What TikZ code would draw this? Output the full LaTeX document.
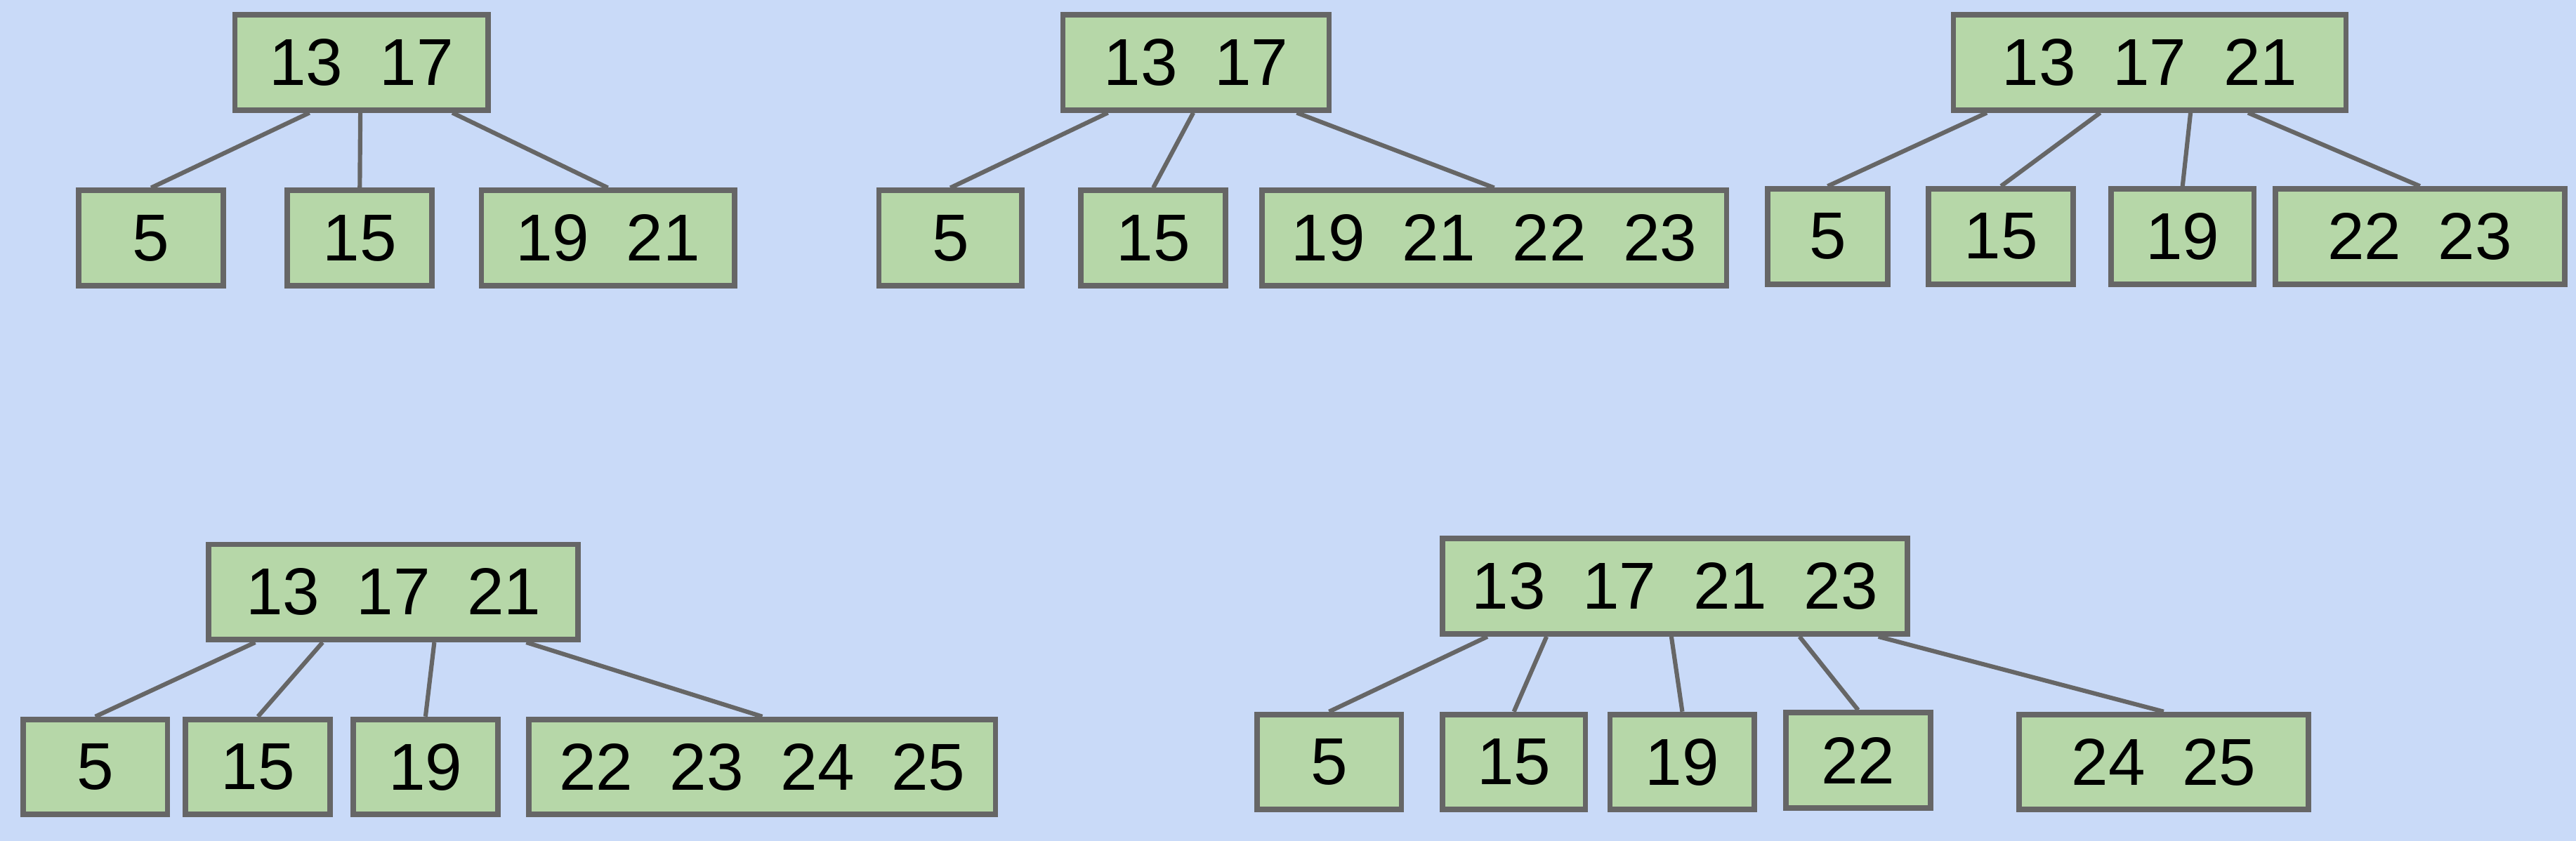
\documentclass[tikz,border=0pt]{standalone}
\usepackage{fontspec}
\setmainfont{Liberation Sans}
\usetikzlibrary{calc}
\definecolor{bgblue}{HTML}{C9DAF8}
\definecolor{keygreen}{HTML}{B6D7A8}
\definecolor{edgegray}{HTML}{666666}
\tikzset{
  keybox/.style={draw=edgegray, fill=keygreen, line width=1.9pt, inner sep=0pt,
    minimum height=1.16cm, minimum width=1.76cm,
    font=\fontsize{23}{28}\selectfont},
  link/.style={draw=edgegray, line width=1.5pt}
}
\begin{document}
\begin{tikzpicture}[x=0.02cm,y=-0.02cm]
	\fill[bgblue] (0,0) rectangle (1568,512);
	\useasboundingbox (0,0) rectangle (1568,512);
	% first tree
	\node[keybox, minimum width=3.08cm] (ra) at (220,38) {13~~17};
	\node[keybox] (ra1) at (92,145) {5};
	\node[keybox] (ra2) at (219,145) {15};
	\node[keybox, minimum width=3.08cm] (ra3) at (370,145) {19~~21};
	\draw[link] ($(ra.south west)+(47,0)$) -- (ra1.north);
	\draw[link] ($(ra.south west)+(78,0)$) -- (ra2.north);
	\draw[link] ($(ra.south west)+(134,0)$) -- (ra3.north);
	% second tree
	\node[keybox, minimum width=3.24cm] (rb) at (728,38) {13~~17};
	\node[keybox, minimum width=1.74cm] (rb1) at (578.5,145) {5};
	\node[keybox] (rb2) at (702,145) {15};
	\node[keybox, minimum width=5.66cm] (rb3) at (909.5,145) {19~~21~~22~~23};
	\draw[link] ($(rb.south west)+(29,0)$) -- (rb1.north);
	\draw[link] ($(rb.south west)+(81,0)$) -- (rb2.north);
	\draw[link] ($(rb.south west)+(144,0)$) -- (rb3.north);
	% third tree
	\node[keybox, minimum width=4.78cm] (rc) at (1308.5,38) {13~~17~~21};
	\node[keybox, minimum width=1.46cm] (rc1) at (1112.5,144) {5};
	\node[keybox] (rc2) at (1218,144) {15};
	\node[keybox, minimum width=1.74cm] (rc3) at (1328.5,144) {19};
	\node[keybox, minimum width=3.52cm] (rc4) at (1473,144) {22~~23};
	\draw[link] ($(rc.south west)+(22,0)$) -- (rc1.north);
	\draw[link] ($(rc.south west)+(91,0)$) -- (rc2.north);
	\draw[link] ($(rc.south west)+(146,0)$) -- (rc3.north);
	\draw[link] ($(rc.south west)+(181,0)$) -- (rc4.north);
	% fourth tree
	\node[keybox, minimum width=4.5cm] (rd) at (239.5,360.5) {13~~17~~21};
	\node[keybox] (rd1) at (58,467) {5};
	\node[keybox] (rd2) at (157,467) {15};
	\node[keybox] (rd3) at (259,467) {19};
	\node[keybox, minimum width=5.68cm] (rd4) at (464,467) {22~~23~~24~~25};
	\draw[link] ($(rd.south west)+(30,0)$) -- (rd1.north);
	\draw[link] ($(rd.south west)+(71,0)$) -- (rd2.north);
	\draw[link] ($(rd.south west)+(139,0)$) -- (rd3.north);
	\draw[link] ($(rd.south west)+(195,0)$) -- (rd4.north);
	% fifth tree
	\node[keybox, minimum width=5.66cm] (re) at (1019.5,357) {13~~17~~21~~23};
	\node[keybox] (re1) at (809,464) {5};
	\node[keybox, minimum width=1.74cm] (re2) at (921.5,464) {15};
	\node[keybox] (re3) at (1024,464) {19};
	\node[keybox] (re4) at (1131,463) {22};
	\node[keybox, minimum width=3.52cm] (re5) at (1317,464) {24~~25};
	\draw[link] ($(re.south west)+(29,0)$) -- (re1.north);
	\draw[link] ($(re.south west)+(65,0)$) -- (re2.north);
	\draw[link] ($(re.south west)+(141,0)$) -- (re3.north);
	\draw[link] ($(re.south west)+(219,0)$) -- (re4.north);
	\draw[link] ($(re.south west)+(267,0)$) -- (re5.north);
\end{tikzpicture}
\end{document}
